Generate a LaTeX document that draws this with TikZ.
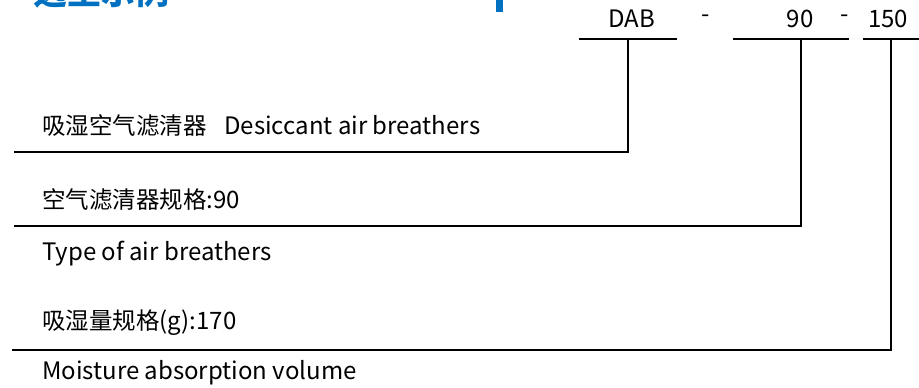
\documentclass[tikz,border=0pt]{standalone}
\usepackage{fontspec}
\setmainfont{Noto Sans CJK SC}
\newcommand{\latsz}{\fontsize{24}{28}\selectfont}
\definecolor{titleblue}{RGB}{0,112,192}
\begin{document}
\begin{tikzpicture}[x=1pt,y=-1pt,
  lbl/.style={anchor=west,inner sep=0pt,font=\fontsize{23.5}{28}\selectfont},
  code/.style={anchor=center,inner sep=0pt,font=\fontsize{24}{28}\selectfont},
  ln/.style={line width=2pt,line cap=rect}]
\useasboundingbox (0,0) rectangle (919,388);
\begin{scope}
\clip (0,0) rectangle (919,388);
\node[anchor=base west,inner sep=0pt,text=titleblue,font=\fontsize{34}{40}\selectfont\bfseries] (title) at (33,5) {选型示例};
\fill[titleblue] (496,0) rectangle (503,12);
\end{scope}
% codes
\node[code] (dab) at (632,19) {DAB};
\node[code] (d1) at (706,19) {-};
\node[code] (n90) at (800,19) {90};
\node[code] (d2) at (845,19) {-};
\node[code] (n150) at (888,19) {150};
% top bars
\coordinate (a1) at (580,39); \coordinate (a2) at (676,39);
\coordinate (b1) at (734,39); \coordinate (b2) at (848,39);
\coordinate (c1) at (863,39); \coordinate (c2) at (919,39);
\draw[ln] (a1) -- (a2);
\draw[ln] (b1) -- (b2);
\draw[ln,line cap=butt] (c1) -- (c2);
% leaders
\coordinate (ta) at (628,39); \coordinate (ca) at (628,152); \coordinate (ea) at (14,152);
\coordinate (tb) at (801,39); \coordinate (cb) at (801,226); \coordinate (eb) at (14,226);
\coordinate (tc) at (891,39); \coordinate (cc) at (891,350); \coordinate (ec) at (12,350);
\draw[ln,line cap=butt,line join=miter] (ta) -- (ca) -- (ea);
\draw[ln,line cap=butt,line join=miter] (tb) -- (cb) -- (eb);
\draw[ln,line cap=butt,line join=miter] (tc) -- (cc) -- (ec);
% labels
\node[lbl] (l1) at (42,126) {吸湿空气滤清器\hspace{0.75em}{\latsz Desiccant air breathers}};
\node[lbl] (l2) at (42,200) {空气滤清器规格{\latsz :90}};
\node[lbl] (l3) at (42,254) {\latsz Type of air breathers};
\node[lbl] (l4) at (42,323) {吸湿量规格{\latsz (g):170}};
\node[lbl] (l5) at (42,373) {\latsz Moisture absorption volume};
\end{tikzpicture}
\end{document}
